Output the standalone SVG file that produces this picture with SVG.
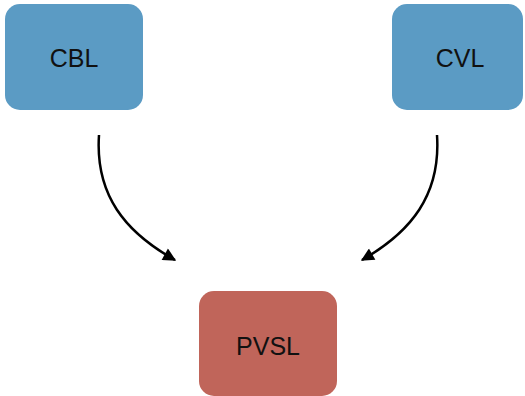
<svg xmlns="http://www.w3.org/2000/svg" width="525" height="396" viewBox="0 0 525 396">
  <style>
    .blue { fill: #5b9bc4; }
    .red { fill: #c0655a; }
    .label { font-family: "Liberation Sans", Arial, sans-serif; font-size: 25px; fill: #111; text-anchor: middle; }
    .edge { fill: none; stroke: #000; stroke-width: 2.5; marker-end: url(#arrow); }
  </style>
  <defs>
    <marker id="arrow" viewBox="0 0 10 10" refX="9" refY="5" markerWidth="6" markerHeight="5.2" orient="auto" markerUnits="strokeWidth">
      <path d="M0,0 L10,5 L0,10 Z" fill="#000"/>
    </marker>
  </defs>

  <g id="CBL">
    <rect class="blue" x="5" y="4" width="138" height="106" rx="15" ry="15"/>
    <text class="label" x="74" y="67">CBL</text>
  </g>

  <g id="CVL">
    <rect class="blue" x="392" y="4" width="131" height="106" rx="15" ry="15"/>
    <text class="label" x="460" y="67">CVL</text>
  </g>

  <g id="PVSL">
    <rect class="red" x="199" y="291" width="138" height="105" rx="15" ry="15"/>
    <text class="label" x="268" y="355">PVSL</text>
  </g>

  <g id="connectors">
    <path class="edge" d="M99,135 C95,195 125,232 175,260"/>
    <path class="edge" d="M437,135 C441,195 411,232 362,260"/>
  </g>
</svg>
